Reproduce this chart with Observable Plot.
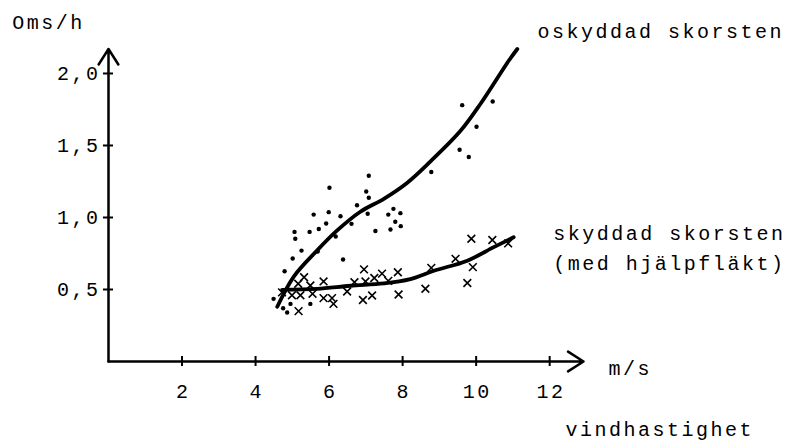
<!DOCTYPE html>
<html>
<head>
<meta charset="utf-8">
<script src="https://cdn.jsdelivr.net/npm/d3@7"></script>
<script src="https://cdn.jsdelivr.net/npm/@observablehq/plot@0.6"></script>
<style>
  html, body { margin: 0; padding: 0; background: white; }
</style>
</head>
<body>
<div id="chart"></div>
<script>
// Tick values and labels
const xTicks = [2, 4, 6, 8, 10, 12];
const yTicks = [0.5, 1.0, 1.5, 2.0];
const yTickLabels = ["0,5", "1,0", "1,5", "2,0"];

// Axis extents (arrow tips)
const xMax = 12.92;
const yMax = 2.17;

// oskyddad skorsten — measured points (dots)
const oskX = [4.49, 4.75, 4.86, 4.95, 5.49, 4.79, 5.01, 5.08, 5.06, 5.25, 5.47, 5.58, 5.69, 5.72, 5.92, 5.99, 6.01, 6.18, 6.31, 6.38, 6.61, 6.76, 7.01, 7.08, 7.08, 7.05, 7.26, 7.61, 7.75, 7.94, 7.80, 7.67, 7.95, 8.78, 9.55, 9.80, 9.62, 10.01, 10.45];
const oskY = [0.435, 0.37, 0.34, 0.40, 0.40, 0.627, 0.715, 0.852, 0.90, 0.77, 0.90, 1.02, 0.764, 0.92, 0.958, 1.037, 1.206, 0.868, 1.009, 0.708, 0.956, 1.085, 1.18, 1.137, 1.29, 1.026, 0.906, 1.02, 1.06, 1.03, 0.97, 0.917, 0.94, 1.316, 1.47, 1.42, 1.78, 1.63, 1.805];

// skyddad skorsten (med hjälpfläkt) — measured points (crosses)
const skyX = [4.72, 4.99, 5.16, 5.22, 5.32, 5.17, 5.49, 5.55, 5.85, 5.85, 6.08, 6.12, 6.49, 6.69, 6.95, 6.99, 6.92, 7.17, 7.23, 7.44, 7.61, 7.87, 7.89, 8.62, 8.78, 9.44, 9.76, 9.91, 9.87, 10.44, 10.87];
const skyY = [0.48, 0.46, 0.54, 0.46, 0.585, 0.35, 0.528, 0.47, 0.556, 0.44, 0.44, 0.40, 0.486, 0.55, 0.64, 0.556, 0.427, 0.458, 0.58, 0.61, 0.56, 0.62, 0.465, 0.505, 0.65, 0.713, 0.545, 0.655, 0.852, 0.844, 0.82];

// Fitted curves
const upX = [4.59, 5.04, 5.67, 6.22, 6.85, 7.49, 8.12, 8.76, 9.57, 10.12, 10.89, 11.12];
const upY = [0.38, 0.59, 0.77, 0.91, 1.04, 1.13, 1.24, 1.39, 1.60, 1.79, 2.09, 2.17];
const loX = [4.72, 5.67, 6.58, 7.49, 8.21, 8.85, 9.76, 10.48, 11.02];
const loY = [0.498, 0.505, 0.526, 0.542, 0.572, 0.63, 0.70, 0.794, 0.863];

// Annotations
const labels = [
  {text: "oskyddad skorsten", x: 11.67, y: 2.29},
  {text: "skyddad skorsten", x: 12.1, y: 0.885},
  {text: "(med hjälpfläkt)", x: 12.1, y: 0.68},
  {text: "m/s", x: 13.6, y: -0.05},
  {text: "vindhastighet", x: 12.43, y: -0.47},
  {text: "Oms/h", x: -2.62, y: 2.35}
];

const zip = (xs, ys) => xs.map((x, i) => ({x, y: ys[i]}));
const osk = zip(oskX, oskY);
const sky = zip(skyX, skyY);
const up = zip(upX, upY);
const lo = zip(loX, loY);

const W = 795, H = 441;
const mL = 108, mR = 212, mT = 48.5, mB = 80;
const xPerPx = xMax / (W - mL - mR);
const yPerPx = yMax / (H - mT - mB);
const tickHalf = 5;

const chart = Plot.plot({
  width: W,
  height: H,
  marginLeft: mL,
  marginRight: mR,
  marginTop: mT,
  marginBottom: mB,
  x: {domain: [0, xMax], axis: null},
  y: {domain: [0, yMax], axis: null},
  style: {
    fontFamily: "'Liberation Mono', 'DejaVu Sans Mono', monospace",
    fontSize: "20px",
    letterSpacing: "2.5px",
    color: "black",
    background: "white",
    overflow: "visible"
  },
  marks: [
    // axes with arrowheads
    Plot.arrow([{x1: 0, y1: 0, x2: xMax, y2: 0}], {x1: "x1", y1: "y1", x2: "x2", y2: "y2", stroke: "black", strokeWidth: 2.5, headLength: 11, headAngle: 65}),
    Plot.arrow([{x1: 0, y1: 0, x2: 0, y2: yMax}], {x1: "x1", y1: "y1", x2: "x2", y2: "y2", stroke: "black", strokeWidth: 2.5, headLength: 11, headAngle: 65}),
    // ticks crossing the axes
    Plot.ruleX(xTicks, {x: d => d, y1: -tickHalf * yPerPx, y2: tickHalf * yPerPx, stroke: "black", strokeWidth: 2}),
    Plot.ruleY(yTicks, {y: d => d, x1: -tickHalf * xPerPx, x2: tickHalf * xPerPx, stroke: "black", strokeWidth: 2}),
    // tick labels
    Plot.text(xTicks, {x: d => d, y: 0, text: d => String(d), dy: 30, dx: 1.2, fill: "black"}),
    Plot.text(yTicks, {x: 0, y: d => d, text: (d, i) => yTickLabels[i], textAnchor: "end", dx: -8, fill: "black"}),
    // data
    Plot.dot(osk, {x: "x", y: "y", r: 2.2, fill: "black", stroke: "none"}),
    Plot.dot(sky, {x: "x", y: "y", symbol: "times", r: 3.6, stroke: "black", strokeWidth: 1.6}),
    // fitted curves
    Plot.line(up, {x: "x", y: "y", curve: "catmull-rom", stroke: "black", strokeWidth: 3.8}),
    Plot.line(lo, {x: "x", y: "y", curve: "catmull-rom", stroke: "black", strokeWidth: 3.8}),
    // annotations
    Plot.text(labels, {x: "x", y: "y", text: "text", textAnchor: "start", fill: "black"})
  ]
});

document.getElementById("chart").appendChild(chart);
</script>
</body>
</html>
